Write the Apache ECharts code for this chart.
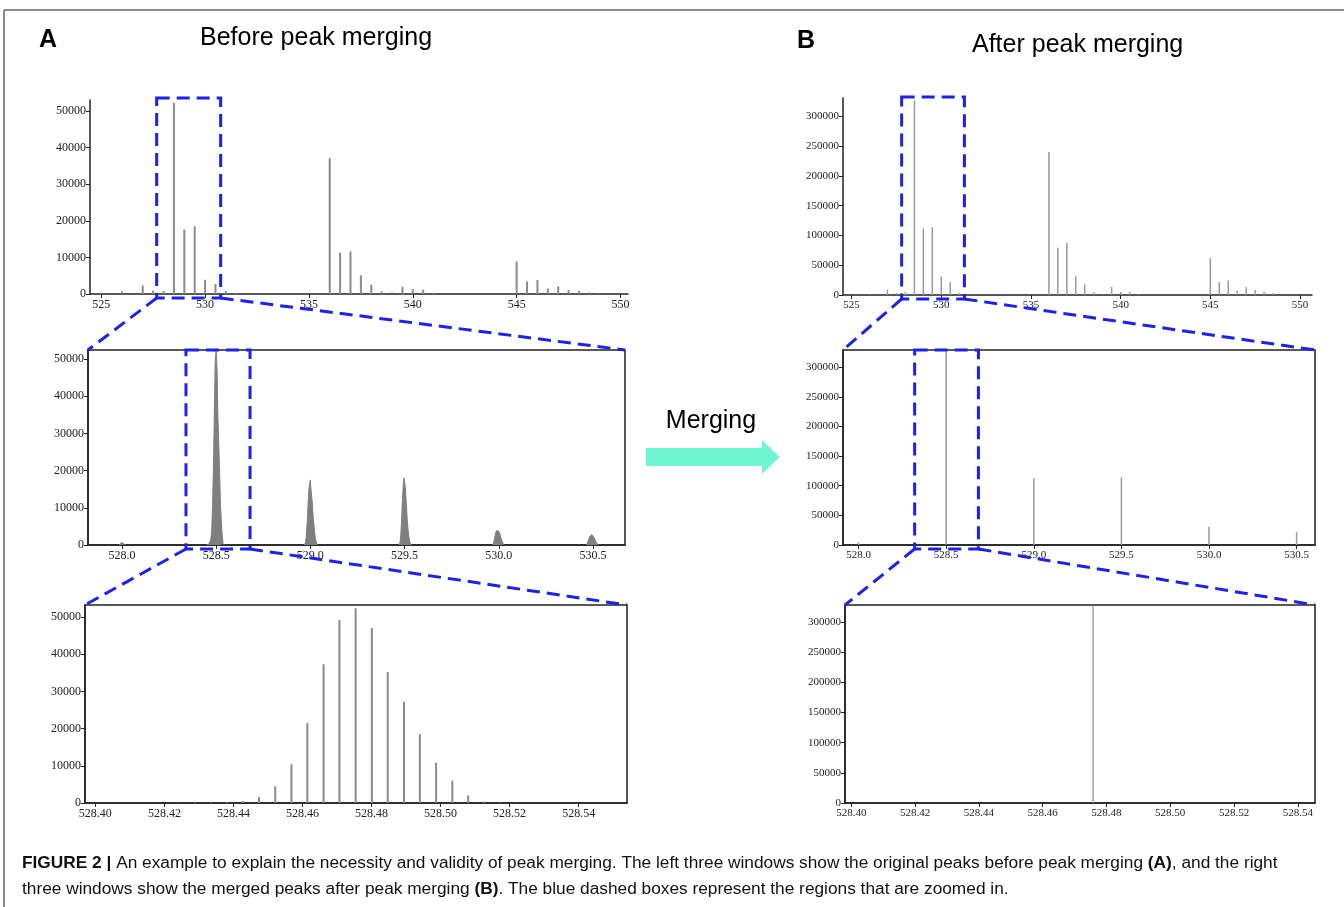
<!DOCTYPE html>
<html>
<head>
<meta charset="utf-8">
<script src="https://cdn.jsdelivr.net/npm/echarts@6/dist/echarts.min.js"></script>
<style>
html, body { margin: 0; padding: 0; background: #fff; }
#chart { width: 1344px; height: 907px; }
</style>
</head>
<body>
<div id="chart"></div>
<script>
// ---- data ----
// A, top window: whole spectrum before merging
var mzTopA = [525.0, 526.0, 527.0, 527.5, 528.0, 528.5, 529.0, 529.5, 530.0, 530.5, 531.0, 531.5, 536.0, 536.5, 537.0, 537.5, 538.0, 538.5, 539.0, 539.5, 540.0, 540.5, 541.0, 545.0, 545.5, 546.0, 546.5, 547.0, 547.5, 548.0, 548.5, 549.0];
var intTopA = [300, 700, 2300, 900, 800, 52200, 17600, 18500, 3900, 2700, 800, 200, 37100, 11300, 11600, 5100, 2500, 700, 450, 2000, 1300, 1200, 300, 8900, 3400, 3800, 1500, 2100, 1100, 800, 400, 200];

// A, middle window: isotope clusters as [m/z, intensity] envelopes
var clusterA528 = [[527.985, 0], [527.993, 300], [528.000, 700], [528.006, 600], [528.013, 200], [528.020, 0]];
var clusterA5285 = [[528.450, 0], [528.463, 300], [528.467, 500], [528.472, 1600], [528.477, 4500], [528.481, 10400], [528.486, 21500], [528.491, 37300], [528.495, 49200], [528.500, 52300], [528.505, 47000], [528.509, 35200], [528.514, 27200], [528.519, 18500], [528.523, 10800], [528.528, 6000], [528.533, 2000], [528.537, 400], [528.545, 0]];
var clusterA529 = [[528.968, 0], [528.974, 600], [528.978, 2100], [528.984, 6600], [528.988, 11000], [528.992, 14700], [528.996, 16500], [529.000, 17500], [529.004, 14500], [529.010, 11600], [529.015, 7500], [529.020, 4800], [529.026, 2000], [529.031, 800], [529.037, 0]];
var clusterA5295 = [[529.470, 0], [529.476, 700], [529.480, 2500], [529.485, 7500], [529.489, 12500], [529.493, 16000], [529.497, 18000], [529.500, 18500], [529.504, 15500], [529.509, 11500], [529.514, 7000], [529.519, 4000], [529.524, 1800], [529.529, 600], [529.535, 0]];
var clusterA530 = [[529.967, 0], [529.973, 600], [529.978, 1800], [529.983, 3200], [529.989, 3900], [529.995, 4000], [530.001, 3600], [530.007, 2800], [530.013, 1700], [530.019, 800], [530.025, 200], [530.030, 0]];
var clusterA5305 = [[530.466, 0], [530.472, 500], [530.477, 1400], [530.483, 2300], [530.489, 2700], [530.495, 2800], [530.501, 2500], [530.507, 1900], [530.513, 1100], [530.519, 500], [530.525, 100], [530.530, 0]];

// A, bottom window: sub-peaks of the 528.5 cluster
var mzBotA = [528.4241, 528.4288, 528.4335, 528.4381, 528.4428, 528.4474, 528.4521, 528.4568, 528.4614, 528.4661, 528.4707, 528.4754, 528.4801, 528.4847, 528.4894, 528.4940, 528.4987, 528.5034, 528.5080, 528.5127, 528.5173, 528.5220];
var intBotA = [100, 200, 200, 300, 500, 1600, 4500, 10400, 21500, 37300, 49200, 52300, 47000, 35200, 27200, 18500, 10800, 6000, 2000, 400, 150, 100];

// B, after merging
var mzTopB = [526.0, 527.0, 527.5, 528.0, 528.5, 529.0, 529.5, 530.0, 530.5, 531.0, 536.0, 536.5, 537.0, 537.5, 538.0, 538.5, 539.0, 539.5, 540.0, 540.5, 541.0, 545.0, 545.5, 546.0, 546.5, 547.0, 547.5, 548.0, 548.5];
var intTopB = [1100, 9000, 3400, 4500, 327000, 111500, 113700, 31000, 21400, 3400, 240400, 79400, 87800, 31500, 17500, 4500, 1100, 13500, 5100, 5600, 1700, 61900, 22000, 24200, 7300, 12900, 8400, 5600, 3400];
var mzMidB = [528.0, 528.5, 529.0, 529.5, 530.0, 530.5];
var intMidB = [4500, 327000, 112000, 113800, 30800, 21900];
var mzBotB = [528.4758];
var intBotB = [327000];

// axis ticks
var ticksWide = [525, 530, 535, 540, 545, 550];
var ticksMid = [528.0, 528.5, 529.0, 529.5, 530.0, 530.5];
var ticksNarrow = [528.40, 528.42, 528.44, 528.46, 528.48, 528.50, 528.52, 528.54];
var ticksIntA = [0, 10000, 20000, 30000, 40000, 50000];
var ticksIntB = [0, 50000, 100000, 150000, 200000, 250000, 300000];

// zoomed regions (m/z) drawn as dashed boxes
var zoomA1 = [527.67, 530.75];
var zoomA2 = [528.34, 528.68];
var zoomB1 = [527.79, 531.29];
var zoomB2 = [528.32, 528.684];

// ---- layout ----
var boxes = [
  [90, 100, 538, 194],
  [88, 350, 537, 195],
  [85, 605, 542, 198],
  [843, 98, 469, 197],
  [843, 350, 472, 195],
  [845, 605, 470, 198]
];
var xRange = [[524.46, 550.36], [527.82, 530.67], [528.397, 528.554], [524.52, 550.67], [527.911, 530.605], [528.398, 528.5454]];
var yMax = [53000, 52400, 53200, 331000, 329000, 328000];
var framed = [false, true, true, false, true, true];

var serif = "'Liberation Serif', 'DejaVu Serif', serif";
var sans = "'Liberation Sans', Arial, sans-serif";
var ink = '#222';
var blue = '#1d22e8';

function zip(a, b) { return a.map(function (v, i) { return [v, b[i]]; }); }

var chart = echarts.init(document.getElementById('chart'));

var grids = boxes.map(function (b, i) {
  return { left: b[0], top: b[1], width: b[2], height: b[3], show: framed[i], borderColor: ink, borderWidth: 1.5 };
});

var xTicks = [ticksWide, ticksMid, ticksNarrow, ticksWide, ticksMid, ticksNarrow];
var xDigits = [0, 1, 2, 0, 1, 2];
var xAxes = xTicks.map(function (t, i) {
  return {
    type: 'value', gridIndex: i, min: xRange[i][0], max: xRange[i][1],
    axisLine: { show: true, onZero: false, lineStyle: { color: ink, width: 1.5 } },
    axisTick: { show: true, length: 4, customValues: t, lineStyle: { color: ink } },
    axisLabel: { customValues: t, formatter: function (v) { return v.toFixed(xDigits[i]); }, fontFamily: serif, fontSize: i < 3 ? 12 : 11, color: ink, margin: 5 },
    splitLine: { show: false }
  };
});
var yAxes = boxes.map(function (b, i) {
  var t = i < 3 ? ticksIntA : ticksIntB;
  return {
    type: 'value', gridIndex: i, min: 0, max: yMax[i],
    axisLine: { show: true, lineStyle: { color: ink, width: 1.5 } },
    axisTick: { show: true, length: 4, customValues: t, lineStyle: { color: ink } },
    axisLabel: { customValues: t, formatter: function (v) { return String(v); }, fontFamily: serif, fontSize: i < 3 ? 12 : 11, color: ink, margin: 4 },
    splitLine: { show: false }
  };
});

function sticks(i, mz, inten, w, color) {
  return { type: 'bar', xAxisIndex: i, yAxisIndex: i, data: zip(mz, inten), barWidth: w, itemStyle: { color: color }, silent: true };
}
function cluster(data) {
  return { type: 'line', xAxisIndex: 1, yAxisIndex: 1, data: data, symbol: 'none', silent: true,
    lineStyle: { color: '#7f7f7f', width: 1 }, areaStyle: { color: '#7f7f7f', opacity: 1 } };
}

chart.setOption({
  animation: false,
  grid: grids,
  xAxis: xAxes,
  yAxis: yAxes,
  series: [
    sticks(0, mzTopA, intTopA, 2, '#8a8a8a'),
    cluster(clusterA528), cluster(clusterA5285), cluster(clusterA529),
    cluster(clusterA5295), cluster(clusterA530), cluster(clusterA5305),
    sticks(2, mzBotA, intBotA, 2, '#8a8a8a'),
    sticks(3, mzTopB, intTopB, 1.5, '#9a9a9a'),
    sticks(4, mzMidB, intMidB, 1.5, '#9a9a9a'),
    sticks(5, mzBotB, intBotB, 1.5, '#a0a0a0')
  ]
});

// dashed zoom boxes and connecting lines, placed from data via the axes
var dash = { fill: null, stroke: blue, lineWidth: 3, lineDash: [13, 7] };
var graphics = [];
function zoomBox(src, range, dst, topPad) {
  var b = boxes[src], d = boxes[dst];
  var x0 = chart.convertToPixel({ gridIndex: src }, [range[0], 0])[0];
  var x1 = chart.convertToPixel({ gridIndex: src }, [range[1], 0])[0];
  var yt = b[1] - topPad, yb = b[1] + b[3] + 4;
  graphics.push({ type: 'rect', shape: { x: x0, y: yt, width: x1 - x0, height: yb - yt }, style: dash, z: 50 });
  graphics.push({ type: 'line', shape: { x1: x0, y1: yb, x2: d[0], y2: d[1] }, style: dash, z: 50 });
  graphics.push({ type: 'line', shape: { x1: x1, y1: yb, x2: d[0] + d[2], y2: d[1] }, style: dash, z: 50 });
}
zoomBox(0, zoomA1, 1, 2);
zoomBox(1, zoomA2, 2, 0);
zoomBox(3, zoomB1, 4, 1);
zoomBox(4, zoomB2, 5, 0);

// frame
graphics.push({ type: 'line', shape: { x1: 4, y1: 10, x2: 1344, y2: 10 }, style: { stroke: '#666', lineWidth: 1.5 } });
graphics.push({ type: 'line', shape: { x1: 4, y1: 10, x2: 4, y2: 907 }, style: { stroke: '#666', lineWidth: 1.5 } });

// headings
graphics.push({ type: 'text', style: { text: 'A', x: 48, y: 40, font: 'bold 25px ' + sans, fill: '#000', textAlign: 'center', textVerticalAlign: 'middle' } });
graphics.push({ type: 'text', style: { text: 'Before peak merging', x: 200, y: 38, font: '25px ' + sans, fill: '#000', textAlign: 'left', textVerticalAlign: 'middle' } });
graphics.push({ type: 'text', style: { text: 'B', x: 806, y: 41, font: 'bold 25px ' + sans, fill: '#000', textAlign: 'center', textVerticalAlign: 'middle' } });
graphics.push({ type: 'text', style: { text: 'After peak merging', x: 972, y: 45, font: '25px ' + sans, fill: '#000', textAlign: 'left', textVerticalAlign: 'middle' } });

// merging arrow
graphics.push({ type: 'text', style: { text: 'Merging', x: 711, y: 421, font: '25px ' + sans, fill: '#000', textAlign: 'center', textVerticalAlign: 'middle' } });
graphics.push({ type: 'polygon', shape: { points: [[646, 448], [762, 448], [762, 440], [780, 457], [762, 474], [762, 466], [646, 466]] }, style: { fill: '#6ff5d4' } });

// caption, sized so the first line spans the same width as the original
var cap1b = 'FIGURE 2 |';
var cap1 = ' An example to explain the necessity and validity of peak merging. The left three windows show the original peaks before peak merging ';
var cap1end = ', and the right';
var cap2 = 'three windows show the merged peaks after peak merging ';
var cap2end = '. The blue dashed boxes represent the regions that are zoomed in.';
var ctx = document.createElement('canvas').getContext('2d');
ctx.font = 'bold 16px ' + sans;
var w = ctx.measureText(cap1b).width + ctx.measureText('(A)').width;
ctx.font = '16px ' + sans;
w += ctx.measureText(cap1 + cap1end).width;
var fs = Math.round(16 * 1258 / w * 10) / 10;
var rich = { b: { fontFamily: sans, fontWeight: 'bold', fontSize: fs, fill: '#111' }, n: { fontFamily: sans, fontSize: fs, fill: '#111' } };
graphics.push({ type: 'text', style: { text: '{b|' + cap1b + '}{n|' + cap1 + '}{b|(A)}{n|' + cap1end + '}', x: 22, y: 863, rich: rich, textVerticalAlign: 'middle' } });
graphics.push({ type: 'text', style: { text: '{n|' + cap2 + '}{b|(B)}{n|' + cap2end + '}', x: 22, y: 889, rich: rich, textVerticalAlign: 'middle' } });

chart.setOption({ graphic: graphics });
</script>
</body>
</html>
